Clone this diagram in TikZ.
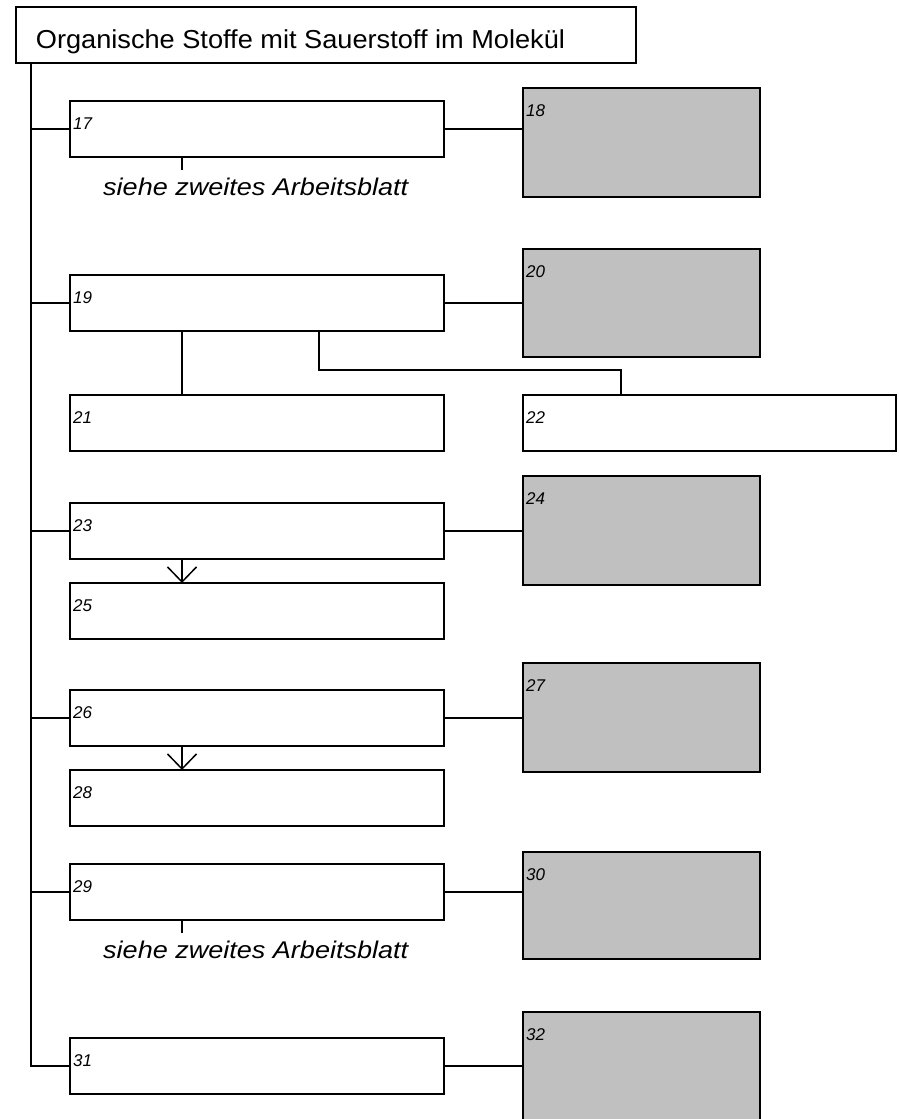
\documentclass[tikz,border=0pt]{standalone}
\usepackage{fontspec}
\setmainfont{Liberation Sans}
\usetikzlibrary{arrows.meta,calc}
\definecolor{boxgrey}{RGB}{192,192,192}
\begin{document}
\begin{tikzpicture}[x=1pt,y=-1pt,
  box/.style={draw,line width=2pt,inner sep=0pt,outer sep=0pt,anchor=north west,rectangle},
  greybox/.style={box,fill=boxgrey},
  conn/.style={line width=2pt},
  lbl/.style={anchor=base west,inner sep=0pt,font=\fontsize{17}{19}\selectfont\itshape},
  note/.style={anchor=base west,inner sep=0pt,font=\itshape},
  barb/.style={-{Straight Barb[length=15pt,width=29pt,line width=1.5pt]}}
]
\useasboundingbox (0,0) rectangle (899,1119);
\clip (0,0) rectangle (899,1119);

% title
\node[box, minimum width=620pt, minimum height=56pt] (title) at (16,7) {};
\node[anchor=base west,inner sep=0pt] (titletext) at (35.7,48.3)
  {\resizebox{529pt}{18.8pt}{Organische Stoffe mit Sauerstoff im Molekül}};

% left column
\node[box, minimum width=374pt, minimum height=56pt] (b17) at (70,101) {};
\node[box, minimum width=374pt, minimum height=56pt] (b19) at (70,275) {};
\node[box, minimum width=374pt, minimum height=56pt] (b21) at (70,395) {};
\node[box, minimum width=374pt, minimum height=56pt] (b23) at (70,503) {};
\node[box, minimum width=374pt, minimum height=56pt] (b25) at (70,583) {};
\node[box, minimum width=374pt, minimum height=56pt] (b26) at (70,690) {};
\node[box, minimum width=374pt, minimum height=56pt] (b28) at (70,770) {};
\node[box, minimum width=374pt, minimum height=56pt] (b29) at (70,864) {};
\node[box, minimum width=374pt, minimum height=56pt] (b31) at (70,1038) {};

% right column
\node[greybox, minimum width=237pt, minimum height=109pt] (b18) at (523,88) {};
\node[greybox, minimum width=237pt, minimum height=108pt] (b20) at (523,249) {};
\node[box, minimum width=373pt, minimum height=56pt] (b22) at (523,395) {};
\node[greybox, minimum width=237pt, minimum height=109pt] (b24) at (523,476) {};
\node[greybox, minimum width=237pt, minimum height=109pt] (b27) at (523,663) {};
\node[greybox, minimum width=237pt, minimum height=107pt] (b30) at (523,852) {};
\node[greybox, minimum width=237pt, minimum height=120pt] (b32) at (523,1012) {};

% number labels
\foreach \n in {17,18,19,20,21,22,23,24,25,26,27,28,29,30,31,32}{
  \node[lbl] (l\n) at ($(b\n.north west)+(3,28.8)$) {\n};
}

% notes
\node[note] (n17) at (103,195.6) {\resizebox{305pt}{17.5pt}{siehe zweites Arbeitsblatt}};
\node[note] (n29) at (103,958.3) {\resizebox{305pt}{17.5pt}{siehe zweites Arbeitsblatt}};

% helper coordinates
\coordinate (x0) at (31,0);
\coordinate (xm) at (182,0);
\coordinate (t17) at (182,170);
\coordinate (t29) at (182,933);
\coordinate (k1) at (319,370);
\coordinate (x22) at (621,0);

% trunk
\draw[conn] (title.south -| x0) -- (b31.west -| x0) -- (b31.west);
\foreach \n in {17,19,23,26,29}{
  \draw[conn] (b\n.west -| x0) -- (b\n.west);
}

% right connectors
\foreach \a/\b in {17/18,19/20,23/24,26/27,29/30,31/32}{
  \draw[conn] (b\a.east) -- (b\a.east -| b\b.west);
}

% ticks to notes
\draw[conn] (b17.south -| xm) -- (t17);
\draw[conn] (b29.south -| xm) -- (t29);

% 19 -> 21, 22
\draw[conn] (b19.south -| xm) -- (b21.north -| xm);
\draw[conn] (b19.south -| k1) -- (k1) -| (b22.north -| x22);

% arrows
\draw[conn,line width=1.5pt,barb] (b23.south -| xm) -- (b25.north -| xm);
\draw[conn,line width=1.5pt,barb] (b26.south -| xm) -- (b28.north -| xm);
\end{tikzpicture}
\end{document}
